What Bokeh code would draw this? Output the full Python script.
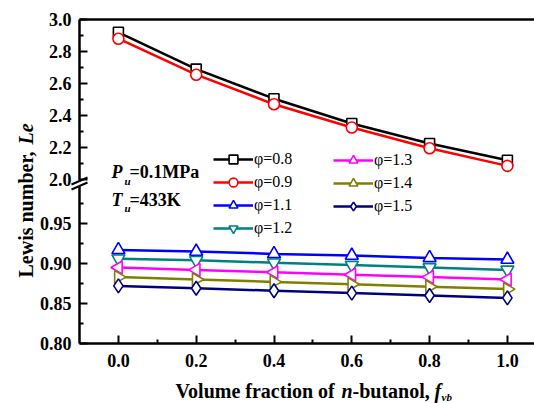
import math
from bokeh.plotting import figure
from bokeh.models import (Range1d, LinearAxis, FixedTicker, PrintfTickFormatter,
                          Legend, LegendItem, Label, BoxAnnotation, Arrow)
from bokeh.embed import file_html
from bokeh.resources import INLINE

# ---------------- data ----------------
fvb = [0.0, 0.2, 0.4, 0.6, 0.8, 1.0]
le_phi08 = [2.92, 2.69, 2.505, 2.35, 2.225, 2.12]
le_phi09 = [2.88, 2.655, 2.47, 2.325, 2.195, 2.085]
le_phi11 = [0.917, 0.915, 0.912, 0.910, 0.907, 0.905]
le_phi12 = [0.906, 0.904, 0.901, 0.898, 0.895, 0.892]
le_phi13 = [0.895, 0.892, 0.889, 0.886, 0.883, 0.880]
le_phi14 = [0.883, 0.880, 0.877, 0.874, 0.871, 0.868]
le_phi15 = [0.872, 0.869, 0.866, 0.863, 0.860, 0.857]
labels = ["\u03c6=0.8", "\u03c6=0.9", "\u03c6=1.1", "\u03c6=1.2", "\u03c6=1.3", "\u03c6=1.4", "\u03c6=1.5"]
x_ticks = [0.0, 0.2, 0.4, 0.6, 0.8, 1.0]
x_minor = [0.1, 0.3, 0.5, 0.7, 0.9]
y_ticks_low = [0.80, 0.85, 0.90, 0.95]
y_minor_low = [0.825, 0.875, 0.925, 0.975]
y_ticks_up = [2.0, 2.2, 2.4, 2.6, 2.8, 3.0]
y_minor_up = [2.1, 2.3, 2.5, 2.7, 2.9]

# ---------------- geometry (pixels) ----------------
W, H = 534, 403
PL, PT, PB = 79, 19, 343          # plot area left / top / bottom
X0, X_PER_PX = -0.1, 1.0 / 389    # x value at plot-area left edge
LO0, LO_PER_PX = 0.80, 0.05 / 40  # lower part of broken axis
UP1, UP_PER_PX = 3.0, 1.0 / 160   # upper part of broken axis

def xd(px):
    return X0 + (px - PL) * X_PER_PX

def yd(py):
    return LO0 + (PB - py) * LO_PER_PX

def yu(py):
    return UP1 - (py - PT) * UP_PER_PX

def up_to_lo(v):
    py = PT + (UP1 - v) / UP_PER_PX
    return round(yd(py), 6)

FONT = "Liberation Serif"

p = figure(width=W, height=H, title=None,
           x_range=Range1d(xd(0), xd(W)), y_range=Range1d(yd(H), yd(0)),
           min_border=0, output_backend="svg", toolbar_location=None)
p.extra_y_ranges = {"up": Range1d(yu(H), yu(0))}
p.outline_line_color = None
p.xgrid.visible = False
p.ygrid.visible = False
p.background_fill_color = "white"
p.border_fill_color = "white"

# x axis
xa = p.xaxis[0]
xa.fixed_location = LO0
xa.bounds = (X0, xd(W))
xa.ticker = FixedTicker(ticks=x_ticks, minor_ticks=x_minor)
xa.formatter = PrintfTickFormatter(format="%.1f")
# y axis (broken scale)
ya = p.yaxis[0]
ya.fixed_location = X0
ya.bounds = (LO0 - 1e-6, yd(PT) + 1e-6)
up_pos = [up_to_lo(v) for v in y_ticks_up]
ya.ticker = FixedTicker(ticks=y_ticks_low + up_pos,
                        minor_ticks=y_minor_low + [up_to_lo(v) for v in y_minor_up])
ya.formatter = PrintfTickFormatter(format="%.2f")
overrides = {}
for v, pos in zip(y_ticks_up, up_pos):
    overrides[pos] = "%.1f" % v
    overrides[str(pos)] = "%.1f" % v
ya.major_label_overrides = overrides

for ax in (xa, ya):
    ax.axis_line_width = 2.5
    ax.major_tick_line_width = 2
    ax.minor_tick_line_width = 2
    ax.major_tick_in = 8
    ax.major_tick_out = 0
    ax.minor_tick_in = 4
    ax.minor_tick_out = 0
    ax.major_label_text_font = FONT
    ax.major_label_text_font_style = "bold"
    ax.major_label_text_font_size = "18px"
    ax.major_label_text_color = "black"
xa.major_label_standoff = 10
ya.major_label_standoff = 8

top = LinearAxis(ticker=FixedTicker(ticks=[]), major_label_text_font_size="0px",
                 fixed_location=yd(PT), bounds=(X0, xd(W)),
                 axis_line_width=2.5, major_tick_line_color=None, minor_tick_line_color=None)
p.add_layout(top, "above")

# ---------------- series ----------------
series = [
    (le_phi08, "black", "square", 10, 0, "up"),
    (le_phi09, "red", "circle", 11, 0, "up"),
    (le_phi11, "blue", "triangle", 13, 0, "default"),
    (le_phi12, "#008080", "inverted_triangle", 13, 0, "default"),
    (le_phi13, "magenta", "triangle", 13, math.pi / 2, "default"),
    (le_phi14, "#808000", "triangle", 13, -math.pi / 2, "default"),
    (le_phi15, "#000080", "diamond", 14, 0, "default"),
]
items = []
for (ys, col, mk, sz, ang, rng), lab in zip(series, labels):
    lr = p.line(fvb, ys, line_color=col, line_width=2.5, y_range_name=rng)
    sr = p.scatter(fvb, ys, marker=mk, size=sz, angle=ang, line_color=col,
                   fill_color="white", line_width=1.6, y_range_name=rng)
    items.append(LegendItem(label=lab, renderers=[lr, sr]))

def make_legend(its, loc):
    return Legend(items=its, location=loc, glyph_width=40, glyph_height=22,
                  label_height=22, label_standoff=1, spacing=1, padding=0, margin=0,
                  border_line_color=None, background_fill_alpha=0,
                  label_text_font=FONT, label_text_font_size="16px",
                  label_text_color="black")

p.add_layout(make_legend(items[:4], (213, H - 239)), "center")
p.add_layout(make_legend(items[4:], (333, H - 217)), "center")

# ---------------- texts ----------------
def lab(px, py, t, size, style="bold", angle=0.0):
    p.add_layout(Label(x=xd(px), y=yd(py), text=t, text_font=FONT,
                       text_font_size=size, text_font_style=style,
                       text_baseline="alphabetic", text_align="left",
                       angle=angle, text_color="black"))

lab(111, 171, "P", "18px", "bold italic")
lab(124, 180, "u", "11px", "bold italic")
lab(129, 171, "=0.1MPa", "18px")
lab(111, 199, "T", "18px", "bold italic")
lab(124, 207, "u", "11px", "bold italic")
lab(129, 199, "=433K", "18px")

# x axis title
lab(175, 390, "Volume fraction of ", "20px")
lab(341, 390, "n", "20px", "bold italic")
lab(352, 390, "-butanol, ", "20px")
lab(434, 390, "f", "20px", "bold italic")
lab(441, 396, "vb", "11px", "bold italic")
# y axis title
lab(25, 277, "Lewis number, ", "20px", "bold", math.pi / 2)
lab(25, 144, "Le", "20px", "bold italic", math.pi / 2)

# axis break marks
p.add_layout(BoxAnnotation(left=xd(75), right=xd(83), bottom=yd(186), top=yd(181),
                           fill_color="white", fill_alpha=1.0, line_color=None))
p.add_layout(Arrow(end=None, x_start=xd(71), y_start=yd(184), x_end=xd(87), y_end=yd(177),
                   line_color="black", line_width=2))
p.add_layout(Arrow(end=None, x_start=xd(71), y_start=yd(189), x_end=xd(87), y_end=yd(182),
                   line_color="black", line_width=2))

open("out.html", "w").write(file_html(p, INLINE))
